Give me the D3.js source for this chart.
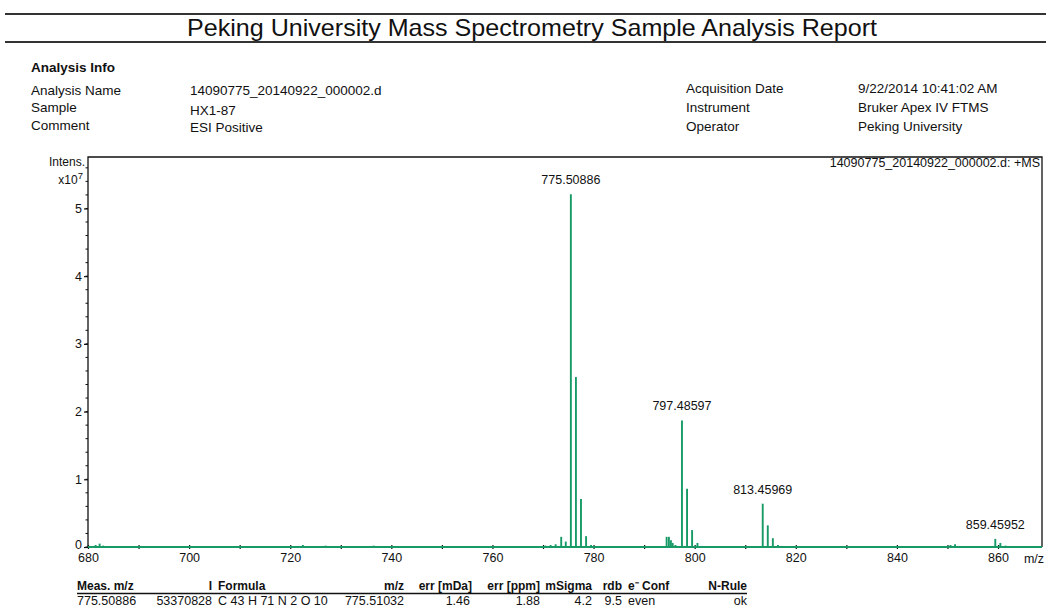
<!DOCTYPE html>
<html><head><meta charset="utf-8">
<script src="https://cdn.jsdelivr.net/npm/d3@7"></script>
<style>body{margin:0;background:#fff}svg{display:block}text{font-family:"Liberation Sans",Arial,sans-serif;fill:#111}</style>
</head><body>
<script>
// ---- data ----
const title = "Peking University Mass Spectrometry Sample Analysis Report";
const infoLeftLabels = ["Analysis Name", "Sample", "Comment"];
const infoLeftValues = ["14090775_20140922_000002.d", "HX1-87", "ESI Positive"];
const infoRightLabels = ["Acquisition Date", "Instrument", "Operator"];
const infoRightValues = ["9/22/2014 10:41:02 AM", "Bruker Apex IV FTMS", "Peking University"];
const peakMz = [681.5, 682.3, 683.0, 700.5, 722.5, 727.0, 736.5, 751.0, 760.0, 770.5, 771.5, 772.5, 773.6, 774.5,
  775.509, 776.51, 777.51, 778.52, 779.5, 794.45, 794.9, 795.3, 795.65, 796.2, 797.486, 798.49, 799.49, 800.55,
  813.46, 814.46, 815.46, 816.47, 850.6, 851.5, 859.46, 860.46, 861.5];
const peakInt = [0.03, 0.05, 0.02, 0.01, 0.03, 0.02, 0.02, 0.01, 0.01, 0.02, 0.03, 0.04, 0.15, 0.08,
  5.21, 2.51, 0.71, 0.16, 0.03, 0.15, 0.15, 0.10, 0.06, 0.03, 1.87, 0.86, 0.25, 0.06,
  0.64, 0.32, 0.13, 0.03, 0.03, 0.04, 0.12, 0.06, 0.02];
const labelMz = [775.509, 797.486, 813.46, 859.46];
const labelInt = [5.21, 1.87, 0.64, 0.12];
const labelText = ["775.50886", "797.48597", "813.45969", "859.45952"];
const xDomain = [680, 868.7];
const yDomain = [0, 5.76];
const xMajorTicks = [680, 700, 720, 740, 760, 780, 800, 820, 840, 860];
const yMajorTicks = [0, 1, 2, 3, 4, 5];
const tableHeaders = ["Meas. m/z", "I", "Formula", "m/z", "err [mDa]", "err [ppm]", "mSigma", "rdb", "e\u207B Conf", "N-Rule"];
const tableRow = ["775.50886", "53370828", "C 43 H 71 N 2 O 10", "775.51032", "1.46", "1.88", "4.2", "9.5", "even", "ok"];

// ---- layout ----
const W = 1046, H = 608;
const svg = d3.select("body").append("svg").attr("width", W).attr("height", H);
const green = "#179a66";

// header rules and title
svg.append("rect").attr("x", 5).attr("y", 13).attr("width", W - 5).attr("height", 2).attr("fill", "#333");
svg.append("rect").attr("x", 5).attr("y", 41).attr("width", W - 5).attr("height", 2).attr("fill", "#333");
svg.append("text").attr("x", 532).attr("y", 36).attr("text-anchor", "middle")
  .attr("font-size", 24).attr("textLength", 690).attr("lengthAdjust", "spacingAndGlyphs").text(title);

// info
svg.append("text").attr("x", 31).attr("y", 72).attr("font-size", 13.5).attr("font-weight", "bold").text("Analysis Info");
const infoY = [95, 112, 130];
const infoValY = [95, 115, 132];
infoLeftLabels.forEach((t, i) => svg.append("text").attr("x", 31).attr("y", infoY[i]).attr("font-size", 13.5).text(t));
infoLeftValues.forEach((t, i) => svg.append("text").attr("x", 190).attr("y", infoValY[i]).attr("font-size", 13.5).text(t));
const infoRY = [93, 112, 131];
infoRightLabels.forEach((t, i) => svg.append("text").attr("x", 686).attr("y", infoRY[i]).attr("font-size", 13.5).text(t));
infoRightValues.forEach((t, i) => svg.append("text").attr("x", 858).attr("y", infoRY[i]).attr("font-size", 13.5).text(t));

// chart
const L = 88, R = 1042, T = 157, B = 547;
const x = d3.scaleLinear().domain(xDomain).range([L, R]);
const y = d3.scaleLinear().domain(yDomain).range([B, T]);

// frame
svg.append("path").attr("d", `M${L},${B}V${T}H${R}V${B}`).attr("fill", "none").attr("stroke", "#111").attr("stroke-width", 1.3);

// x axis
const xAxis = d3.axisBottom(x).tickValues(d3.range(680, 861, 10)).tickSize(4).tickSizeOuter(0)
  .tickFormat(d => xMajorTicks.includes(d) ? d : "");
const gx = svg.append("g").attr("transform", `translate(0,${B - 2})`).call(xAxis);
gx.select(".domain").attr("stroke", "#111").attr("d", `M${L},2H${R}`);
gx.selectAll(".tick line").attr("stroke", "#111").attr("stroke-width", 1.2);
gx.selectAll(".tick text").attr("font-size", 12.5).attr("dy", "0.9em").attr("fill", "#111").attr("y", 6)
  .style("font-family", "Liberation Sans, Arial, sans-serif");
svg.append("text").attr("x", 1034).attr("y", 563).attr("text-anchor", "middle").attr("font-size", 12.5).text("m/z");

// y axis
const yMinor = d3.range(0, 5.7, 0.2);
svg.append("g").selectAll("line").data(yMinor).join("line")
  .attr("x1", L - 2.5).attr("x2", L).attr("y1", d => y(d)).attr("y2", d => y(d)).attr("stroke", "#111").attr("stroke-width", 1);
const yAxis = d3.axisLeft(y).tickValues(yMajorTicks).tickSize(4).tickSizeOuter(0).tickFormat(d3.format("d"));
const gy = svg.append("g").attr("transform", `translate(${L},0)`).call(yAxis);
gy.select(".domain").remove();
gy.selectAll(".tick line").attr("stroke", "#111").attr("stroke-width", 1.2);
gy.selectAll(".tick text").attr("font-size", 12.5).attr("fill", "#111").attr("x", -6)
  .style("font-family", "Liberation Sans, Arial, sans-serif");
gy.selectAll(".tick text").filter(d => d === 0).attr("dy", "0.15em");
svg.append("text").attr("x", 85).attr("y", 166).attr("text-anchor", "end").attr("font-size", 12).text("Intens.");
const xt = svg.append("text").attr("x", 83).attr("y", 184).attr("text-anchor", "end").attr("font-size", 12);
xt.append("tspan").text("x10");
xt.append("tspan").attr("dy", -5).attr("font-size", 9.5).text("7");

svg.append("text").attr("x", 1040).attr("y", 167).attr("text-anchor", "end").attr("font-size", 12.5)
  .text("14090775_20140922_000002.d: +MS");

// spectrum baseline & peaks
svg.append("line").attr("x1", x(680)).attr("x2", R).attr("y1", y(0)).attr("y2", y(0))
  .attr("stroke", green).attr("stroke-width", 2);
const peaks = peakMz.map((m, i) => ({ m, v: peakInt[i] }));
svg.append("g").selectAll("line").data(peaks).join("line")
  .attr("x1", d => x(d.m)).attr("x2", d => x(d.m)).attr("y1", y(0)).attr("y2", d => y(d.v))
  .attr("stroke", green).attr("stroke-width", 1.9);

// peak labels
svg.append("g").selectAll("text").data(labelMz.map((m, i) => ({ m, v: labelInt[i], t: labelText[i] }))).join("text")
  .attr("x", d => x(d.m)).attr("y", d => y(d.v) - 10).attr("text-anchor", "middle").attr("font-size", 12.5).text(d => d.t);

// table
const colX = [77, 212, 218, 404, 470, 540, 592, 622, 628, 747];
const colAnchor = ["start", "end", "start", "end", "end", "end", "end", "end", "start", "end"];
const hdrX = [77, 212, 218, 404, 472, 540, 592, 622, 628, 747];
tableHeaders.forEach((t, i) => svg.append("text").attr("x", hdrX[i]).attr("y", 590).attr("text-anchor", colAnchor[i])
  .attr("font-size", 12).attr("font-weight", "bold").text(t));
svg.append("line").attr("x1", 77).attr("x2", 747).attr("y1", 593.5).attr("y2", 593.5).attr("stroke", "#111").attr("stroke-width", 1.3);
tableRow.forEach((t, i) => svg.append("text").attr("x", colX[i]).attr("y", 605).attr("text-anchor", colAnchor[i])
  .attr("font-size", 12.5).text(t));
</script>
</body></html>
